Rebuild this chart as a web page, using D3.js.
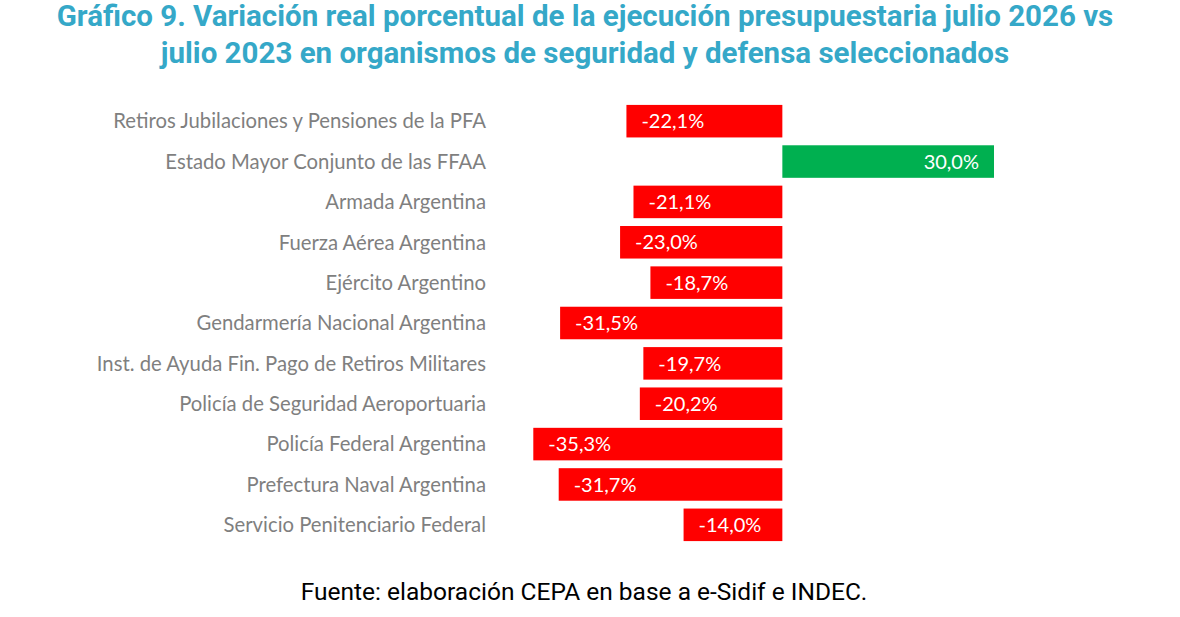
<!DOCTYPE html>
<meta charset="utf-8" />
<script src="https://d3js.org/d3.v7.min.js"></script>
<style>
  body { margin: 0; background: #fff; }
</style>
<div id="chart"></div>
<script>
  // data
  const categories = [
    "Retiros Jubilaciones y Pensiones de la PFA",
    "Estado Mayor Conjunto de las FFAA",
    "Armada Argentina",
    "Fuerza Aérea Argentina",
    "Ejército Argentino",
    "Gendarmería Nacional Argentina",
    "Inst. de Ayuda Fin. Pago de Retiros Militares",
    "Policía de Seguridad Aeroportuaria",
    "Policía Federal Argentina",
    "Prefectura Naval Argentina",
    "Servicio Penitenciario Federal"
  ];
  const values = [-22.1, 30.0, -21.1, -23.0, -18.7, -31.5, -19.7, -20.2, -35.3, -31.7, -14.0];
  const titleLines = [
    "Gráfico 9. Variación real porcentual de la ejecución presupuestaria julio 2026 vs",
    "julio 2023 en organismos de seguridad y defensa seleccionados"
  ];
  const source = "Fuente: elaboración CEPA en base a e-Sidif e INDEC.";

  const width = 1180, height = 617;

  const svg = d3.select("#chart")
    .append("svg")
    .attr("width", width)
    .attr("height", height);

  // title
  svg.append("g")
    .selectAll("text")
    .data(titleLines)
    .join("text")
    .attr("x", 585)
    .attr("y", (d, i) => 26 + i * 37)
    .attr("text-anchor", "middle")
    .style("font-family", "Roboto, sans-serif")
    .style("font-weight", "bold")
    .style("font-size", "29.5px")
    .style("fill", "#35a8c8")
    .text(d => d);

  const x = d3.scaleLinear()
    .domain([-35.3, 30])
    .range([533.3, 994]);

  const y = d3.scaleBand()
    .domain(categories)
    .range([101, 545])
    .paddingInner(0.194)
    .paddingOuter(0.097);

  const fmt = v => v.toFixed(1).replace(".", ",") + "%";

  const rows = categories.map((c, i) => ({ name: c, value: values[i] }));

  // bars
  svg.append("g")
    .selectAll("rect")
    .data(rows)
    .join("rect")
    .attr("x", d => x(Math.min(0, d.value)))
    .attr("width", d => Math.abs(x(d.value) - x(0)))
    .attr("y", d => y(d.name))
    .attr("height", y.bandwidth())
    .attr("fill", d => d.value < 0 ? "#ff0000" : "#00b050");

  // value labels inside bars
  svg.append("g")
    .selectAll("text")
    .data(rows)
    .join("text")
    .attr("x", d => d.value < 0 ? x(d.value) + 15 : x(d.value) - 15)
    .attr("y", d => y(d.name) + y.bandwidth() / 2)
    .attr("dy", "0.36em")
    .attr("text-anchor", d => d.value < 0 ? "start" : "end")
    .style("font-family", "Lato, 'Open Sans', sans-serif")
    .style("font-size", "20px")
    .style("fill", "#ffffff")
    .text(d => fmt(d.value));

  // category labels
  svg.append("g")
    .selectAll("text")
    .data(rows)
    .join("text")
    .attr("x", 486)
    .attr("y", d => y(d.name) + y.bandwidth() / 2)
    .attr("dy", "0.36em")
    .attr("text-anchor", "end")
    .style("font-family", "Lato, 'Open Sans', sans-serif")
    .style("font-size", "20.3px")
    .style("fill", "#7f7f7f")
    .text(d => d.name);

  // source
  svg.append("text")
    .attr("x", 584)
    .attr("y", 600)
    .attr("text-anchor", "middle")
    .style("font-family", "Roboto, sans-serif")
    .style("font-size", "24.5px")
    .style("fill", "#000")
    .text(source);
</script>
